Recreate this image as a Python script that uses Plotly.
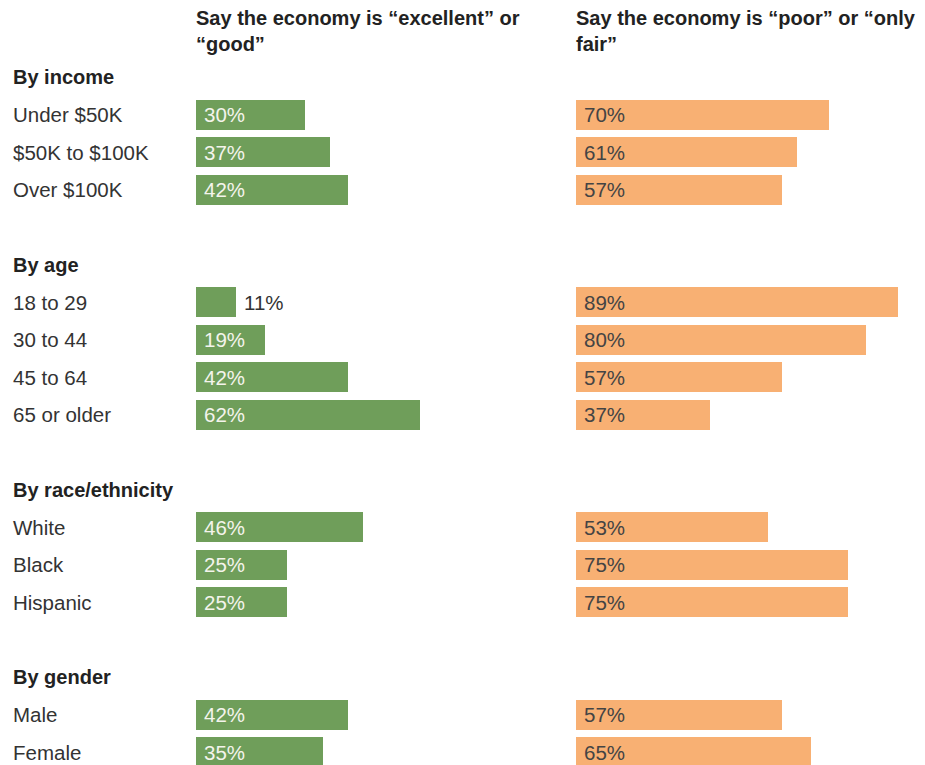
import plotly.graph_objects as go

groups = ["By income", "By age", "By race/ethnicity", "By gender"]
categories = [
    ["Under $50K", "$50K to $100K", "Over $100K"],
    ["18 to 29", "30 to 44", "45 to 64", "65 or older"],
    ["White", "Black", "Hispanic"],
    ["Male", "Female"],
]
good = [[30, 37, 42], [11, 19, 42, 62], [46, 25, 25], [42, 35]]
poor = [[70, 61, 57], [89, 80, 57, 37], [53, 75, 75], [57, 65]]
header_good = "Say the economy is “excellent” or<br>“good”"
header_poor = "Say the economy is “poor” or “only<br>fair”"

GREEN = "#6f9e5a"
ORANGE = "#f8b073"
FONT = "Liberation Sans, Arial, sans-serif"
FS = 20.5
FSH = 20

W, H = 925, 765
ROW = 37.5
TOP = 77  # pixel center of row 0

rows, labels, gv, pv, headers = [], [], [], [], []
r = 0
for g, cats, gs, ps in zip(groups, categories, good, poor):
    headers.append((r, g))
    r += 1
    for c, a, b in zip(cats, gs, ps):
        rows.append(r); labels.append(c); gv.append(a); pv.append(b)
        r += 1
    r += 1

y_top = (0 - TOP) / ROW
y_bot = (H - TOP) / ROW

XMAX = 95
PXPER = 3.62
gx0 = 196 / W
gx1 = (196 + XMAX * PXPER) / W
ox0 = 576 / W
ox1 = (576 + XMAX * PXPER) / W

fig = go.Figure()
fig.add_trace(go.Bar(x=gv, y=rows, orientation="h", marker=dict(color=GREEN, line=dict(width=0)),
                     width=0.8, xaxis="x", yaxis="y", hoverinfo="skip"))
fig.add_trace(go.Bar(x=pv, y=rows, orientation="h", marker=dict(color=ORANGE, line=dict(width=0)),
                     width=0.8, xaxis="x2", yaxis="y", hoverinfo="skip"))

ann = []
for rr, g in headers:
    ann.append(dict(x=11 / W, y=rr, xref="paper", yref="y", text="<b>" + g + "</b>",
                    xanchor="left", yanchor="middle", showarrow=False,
                    font=dict(family=FONT, size=FSH, color="#222")))
for rr, lab, a, b in zip(rows, labels, gv, pv):
    ann.append(dict(x=11 / W, y=rr, xref="paper", yref="y", text=lab,
                    xanchor="left", yanchor="middle", showarrow=False,
                    font=dict(family=FONT, size=FS, color="#333")))
    inside = a >= 15
    ann.append(dict(x=0 if inside else a, y=rr, xref="x", yref="y", text=f"{a}%",
                    xanchor="left", yanchor="middle", showarrow=False, xshift=6,
                    font=dict(family=FONT, size=FS, color="#f4f4ec" if inside else "#333")))
    ann.append(dict(x=0, y=rr, xref="x2", yref="y", text=f"{b}%",
                    xanchor="left", yanchor="middle", showarrow=False, xshift=6,
                    font=dict(family=FONT, size=FS, color="#444")))

for x0, t in [(194, header_good), (574, header_poor)]:
    ann.append(dict(x=x0 / W, y=1 - 5 / H, xref="paper", yref="paper", text="<b>" + t + "</b>",
                    xanchor="left", yanchor="top", align="left", showarrow=False,
                    font=dict(family=FONT, size=FSH, color="#222")))

fig.update_layout(
    width=W, height=H, margin=dict(l=0, r=0, t=0, b=0),
    paper_bgcolor="white", plot_bgcolor="white", showlegend=False,
    xaxis=dict(domain=[gx0, gx1], range=[0, XMAX], visible=False, fixedrange=True),
    xaxis2=dict(domain=[ox0, ox1], range=[0, XMAX], visible=False, fixedrange=True),
    yaxis=dict(domain=[0, 1], range=[y_bot, y_top], visible=False, fixedrange=True),
    annotations=ann, bargap=0,
)
fig.write_html("out.html")
